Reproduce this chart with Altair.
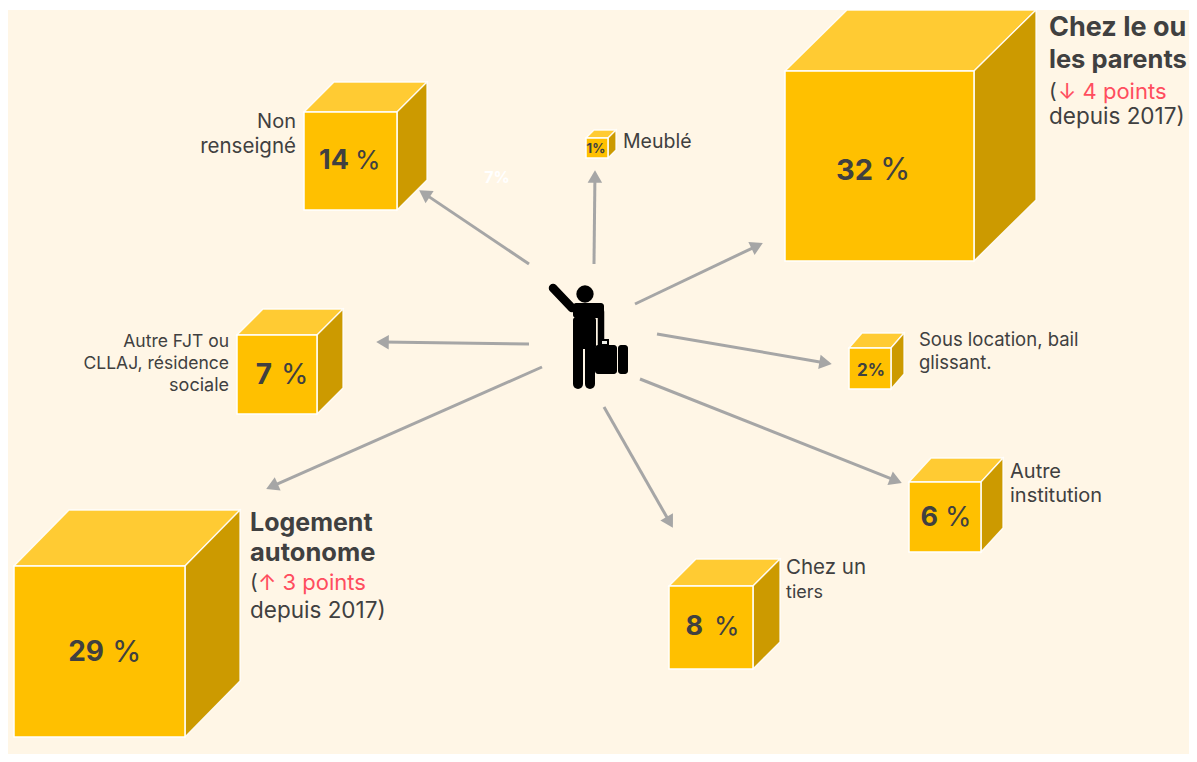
import math
import altair as alt
import pandas as pd

# ---- values ----
names = ["Chez le ou les parents", "Logement autonome", "Non renseigné", "Chez un tiers",
         "Autre FJT ou CLLAJ, résidence sociale", "Autre institution", "Sous location, bail glissant.", "Meublé"]
pct_numbers = ["32", "29", "14", "8", "7", "6"]
pct_small = ["2%", "1%"]

# ---- layout of the cubes, in picture pixels ----
cube_left = [785, 14, 304, 669, 237, 909, 849, 586]
cube_right = [974, 185, 397, 753, 317, 981, 891, 608]
cube_top = [71, 566, 112, 586, 335, 482, 348, 138]
cube_bottom = [261, 737, 210, 669, 414, 552, 389, 158]
cube_dx = [62, 55, 30, 27, 26, 22, 13, 8]
cube_dy = [61, 56, 30, 27, 26, 24, 15, 8]
num_right = [873, 104, 349, 703, 272, 938]
sign_left = [880, 112, 355, 714, 281, 945]
pct_y = [171, 653, 161, 627, 376, 518]
num_size = [29, 28, 27, 27, 28, 27]
sign_size = [31, 30, 26, 26, 28, 27]
small_x = [871, 596]
small_y = [371, 149]
small_size = [17, 13]

# ---- arrows: tail, head ----
arrow_x0 = [529, 594, 635, 657, 640, 604, 542, 529]
arrow_y0 = [264, 264, 304, 334, 379, 407, 367, 344]
arrow_x1 = [419, 595, 763, 832, 902, 673, 266, 376]
arrow_y1 = [190, 170, 243, 364, 483, 528, 489, 342]

# ---- texts ----
bold_text = ["Chez le ou", "les parents", "Logement", "autonome"]
bold_x = [1049, 1049, 250, 250]
bold_y = [28, 60, 523, 553]
bold_size = [27, 25.5, 25, 25.5]

plain_text = ["depuis 2017)", "depuis 2017)", "(", "(", "Meublé", "Sous location, bail", "glissant.",
              "Autre", "institution", "Chez un", "tiers"]
plain_x = [1049, 250, 1049, 250, 623, 919, 919, 1010, 1010, 786, 786]
plain_y = [117, 611, 92, 583, 142, 340, 363, 472, 496, 568, 593]
plain_size = [22.5, 22.5, 21, 21, 19.5, 18.5, 18.5, 20, 20, 20.5, 18]

red_text = ["↓ 4 points", "↑ 3 points"]
red_x = [1058, 258]
red_y = [92, 583]
red_size = [22, 22]

right_text = ["Non", "renseigné", "Autre FJT ou", "CLLAJ, résidence", "sociale"]
right_x = [296, 296, 229, 229, 229]
right_y = [122, 147, 342, 364, 386]
right_size = [20, 20.5, 17.5, 17.5, 18]

# ---- figure of the traveller ----
limb_x0 = [553, 578, 590, 601]
limb_y0 = [288, 345, 345, 312]
limb_x1 = [572, 578, 590, 601]
limb_y1 = [308, 384, 384, 345]
limb_w = [8.5, 10, 10, 6.5]
block_x0 = [573, 573, 595, 618]
block_x1 = [604, 596, 617, 628]
block_y0 = [303, 317, 345, 345]
block_y1 = [318, 349, 374, 374]

W, H = 1181, 746
sx = alt.Scale(domain=[8, 8 + W], nice=False, zero=False)
sy = alt.Scale(domain=[8 + H, 8], nice=False, zero=False)
X = alt.X("x:Q", scale=sx, axis=None)
Y = alt.Y("y:Q", scale=sy, axis=None)
X2, Y2 = alt.X2("x2:Q"), alt.Y2("y2:Q")

FRONT, TOP, SIDE = "#FFC000", "#FFCB33", "#CC9A00"
INK, RED, GREY, BG = "#404040", "#FF4D5E", "#A6A6A6", "#FFF6E6"
FONT = "Inter"

bg = alt.Chart(pd.DataFrame({"x": [8], "x2": [1189], "y": [10], "y2": [754]})).mark_rect(color=BG).encode(X, X2, Y, Y2)

rows = []
for k in range(len(names)):
    L, R, T, B, dx, dy = cube_left[k], cube_right[k], cube_top[k], cube_bottom[k], cube_dx[k], cube_dy[k]
    rows += [
        dict(face=f"t{k}", i=0, x=L, y=T, y2=T),
        dict(face=f"t{k}", i=1, x=L + dx, y=T - dy, y2=T),
        dict(face=f"t{k}", i=2, x=R, y=T - dy, y2=T),
        dict(face=f"t{k}", i=3, x=R + dx, y=T - dy, y2=T - dy),
        dict(face=f"s{k}", i=0, x=R, y=T, y2=B),
        dict(face=f"s{k}", i=1, x=R + dx, y=T - dy, y2=B - dy),
    ]
faces = pd.DataFrame(rows)


def face_layer(prefix, col):
    return alt.Chart(faces[faces.face.str.startswith(prefix)]).mark_area(
        color=col, orient="vertical", stroke="white", strokeWidth=1.3, strokeOpacity=0.9
    ).encode(X, Y, Y2, detail="face:N")


fronts = pd.DataFrame({"x": cube_left, "x2": cube_right, "y": cube_top, "y2": cube_bottom})
front_layer = alt.Chart(fronts).mark_rect(color=FRONT, stroke="white", strokeWidth=1.5).encode(X, X2, Y, Y2)

arr = pd.DataFrame({"x": arrow_x0, "y": arrow_y0, "x2": arrow_x1, "y2": arrow_y1})
arr["angle"] = [(math.degrees(math.atan2(c - a, b - d)) + 360) % 360
                for a, b, c, d in zip(arrow_x0, arrow_y0, arrow_x1, arrow_y1)]
arr["hx"] = [c - 6.5 * math.cos(math.atan2(d - b, c - a)) for a, b, c, d in zip(arrow_x0, arrow_y0, arrow_x1, arrow_y1)]
arr["hy"] = [d - 6.5 * math.sin(math.atan2(d - b, c - a)) for a, b, c, d in zip(arrow_x0, arrow_y0, arrow_x1, arrow_y1)]
shaft = arr.assign(x2=arr.hx, y2=arr.hy)
arr_shaft = alt.Chart(shaft).mark_rule(color=GREY, strokeWidth=3).encode(X, X2, Y, Y2)
arr_head = alt.Chart(arr).mark_point(shape="triangle-up", filled=True, color=GREY, opacity=1, size=210).encode(
    alt.X("hx:Q", scale=sx, axis=None), alt.Y("hy:Q", scale=sy, axis=None), alt.Angle("angle:Q", scale=None))

limbs = pd.DataFrame({"x": limb_x0, "y": limb_y0, "x2": limb_x1, "y2": limb_y1, "w": limb_w})
limb_layer = alt.Chart(limbs).mark_rule(color="black", strokeCap="round").encode(
    X, X2, Y, Y2, alt.StrokeWidth("w:Q", scale=None))
blocks = pd.DataFrame({"x": block_x0, "x2": block_x1, "y": block_y0, "y2": block_y1})
block_layer = alt.Chart(blocks).mark_rect(color="black", cornerRadius=3).encode(X, X2, Y, Y2)
head = alt.Chart(pd.DataFrame({"x": [585], "y": [294]})).mark_point(filled=True, shape="circle", color="black", opacity=1, size=300).encode(X, Y)
handle = alt.Chart(pd.DataFrame({"x": [601], "x2": [608], "y": [340], "y2": [345]})).mark_rect(
    color="#EFEFE8", stroke="black", strokeWidth=2).encode(X, X2, Y, Y2)


def txt(texts, xs, ys, sizes, color, align="left", weight="normal"):
    return alt.Chart(pd.DataFrame({"t": texts, "x": xs, "y": ys, "s": sizes})).mark_text(
        align=align, baseline="middle", color=color, font=FONT, fontWeight=weight
    ).encode(X, Y, alt.Text("t:N"), alt.Size("s:Q", scale=None))


layers = [
    bg, face_layer("t", TOP), face_layer("s", SIDE), front_layer,
    arr_shaft, arr_head,
    limb_layer, block_layer, head, handle,
    txt(pct_numbers, num_right, pct_y, num_size, INK, "right", "bold"),
    txt(["%"] * len(pct_numbers), sign_left, pct_y, sign_size, INK),
    txt(pct_small, small_x, small_y, small_size, INK, "center", "bold"),
    txt(bold_text, bold_x, bold_y, bold_size, INK, "left", "bold"),
    txt(plain_text, plain_x, plain_y, plain_size, INK),
    txt(red_text, red_x, red_y, red_size, RED),
    txt(right_text, right_x, right_y, right_size, INK, "right"),
    txt(["7%"], [497], [178], [16], "white", "center", "bold"),
]

chart = alt.layer(*layers).properties(
    width=W, height=H, padding=0, background="white", autosize=alt.AutoSizeParams(type="none")
).configure_view(stroke=None)

chart.save("out.html", embed_options={"renderer": "svg", "actions": False})
